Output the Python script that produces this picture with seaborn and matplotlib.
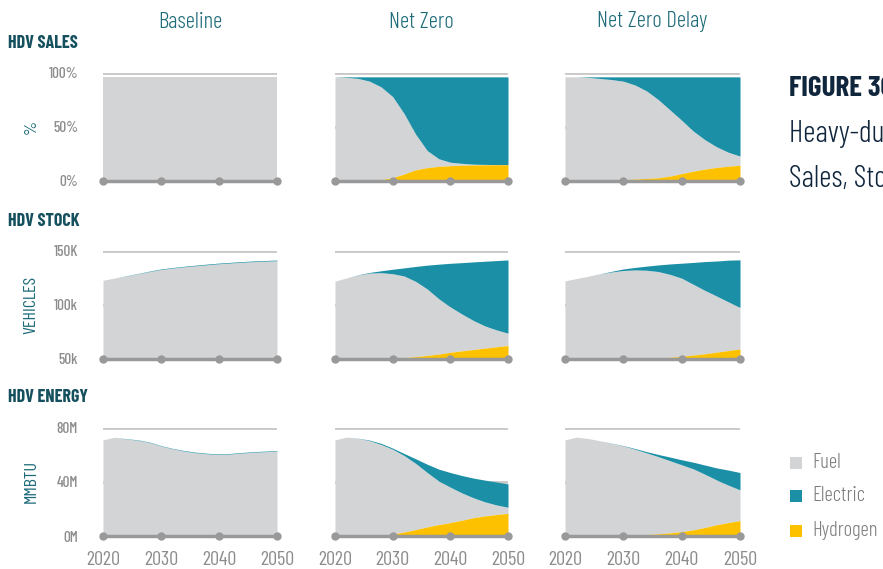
import numpy as np
import matplotlib
matplotlib.use('Agg')
import matplotlib.pyplot as plt
import seaborn as sns
from matplotlib.patches import Rectangle

sns.set_theme(style='white')
plt.rcParams['font.family'] = ['Barlow Condensed', 'DejaVu Sans']

years = [2020, 2022, 2024, 2026, 2028, 2030, 2032, 2034, 2036, 2038, 2040, 2042, 2044, 2046, 2048, 2050]
scenarios = ['Baseline', 'Net Zero', 'Net Zero Delay']
rows = ['HDV SALES', 'HDV STOCK', 'HDV ENERGY']
units = ['%', 'VEHICLES', 'MMBTU']
fuels = ['Fuel', 'Electric', 'Hydrogen']

# ---- HDV sales share (%) ----
sales_fuel = {
    'Baseline': [96] * 16,
    'Net Zero': [96, 95.5, 94.5, 91.6, 85.5, 74.7, 55.5, 32.7, 15.7, 7, 3.2, 1.8, 0.7, 0.4, 0.1, 0],
    'Net Zero Delay': [96, 96, 95.5, 94.3, 93, 90.8, 86.7, 80.6, 72, 61, 49.2, 37, 27, 19, 12.9, 8.5],
}
sales_elec = {
    'Baseline': [0] * 16,
    'Net Zero': [0, 0.5, 1.4, 4, 9.3, 18.2, 34, 53, 68, 75.5, 78.7, 79.7, 80.5, 80.7, 80.9, 81],
    'Net Zero Delay': [0, 0, 0.5, 1.5, 2.5, 4, 7.5, 13, 21, 30.5, 40, 50, 58, 64.5, 69.5, 73],
}
sales_h2 = {
    'Baseline': [0] * 16,
    'Net Zero': [0, 0, 0.1, 0.4, 1.2, 3.1, 6.5, 10.3, 12.3, 13.5, 14.1, 14.5, 14.8, 14.9, 15, 15],
    'Net Zero Delay': [0, 0, 0, 0.2, 0.5, 1.2, 1.8, 2.4, 3, 4.5, 6.8, 9, 11, 12.5, 13.6, 14.5],
}

# ---- HDV stock (thousand vehicles) ----
stock_fuel = {
    'Baseline': [122.6, 124.6, 126.5, 128.5, 130.6, 132.5, 133.8, 135, 135.9, 136.9, 137.8, 138.5, 139.2, 139.8, 140.2, 140.6],
    'Net Zero': [121.8, 124.7, 127.4, 129.2, 129.4, 128, 125.2, 119.3, 111.2, 101, 91.8, 84, 76.8, 70.5, 65.6, 61.4],
    'Net Zero Delay': [122, 124.2, 126.3, 128.4, 130.2, 131.5, 131.9, 131.4, 129.7, 126.4, 122, 115.2, 108.4, 101.7, 94.9, 88.3],
}
stock_elec = {
    'Baseline': [0, 0, 0.2, 0.3, 0.4, 0.5, 0.5, 0.5, 0.6, 0.6, 0.6, 0.6, 0.6, 0.6, 0.6, 0.6],
    'Net Zero': [0, 0, 0.2, 0.6, 1.7, 4.1, 7.5, 13.8, 22, 31.9, 40.2, 47.3, 54, 59.6, 63.9, 67.5],
    'Net Zero Delay': [0, 0, 0, 0.1, 0.6, 1.4, 2.3, 3.8, 6.1, 9.6, 13.8, 20.2, 26.6, 32.3, 38.4, 43.9],
}
stock_h2 = {
    'Baseline': [0] * 16,
    'Net Zero': [0, 0, 0, 0, 0.2, 0.6, 1.3, 2.2, 3.3, 4.5, 6.2, 7.5, 8.7, 10, 11.2, 12.4],
    'Net Zero Delay': [0, 0, 0, 0, 0, 0.1, 0.2, 0.4, 0.9, 1.6, 2.5, 3.6, 4.8, 6.3, 7.8, 9.2],
}

# ---- HDV energy (million MMBTU) ----
energy_fuel = {
    'Baseline': [70.9, 72.8, 71.6, 70.6, 69.0, 66.4, 64.3, 62.6, 61.4, 60.6, 60.1, 60.5, 61.2, 61.8, 62.2, 62.6],
    'Net Zero': [70.9, 72.9, 72, 70.1, 66.9, 62.5, 56.4, 48.8, 40.1, 32.1, 26.1, 20.2, 14.7, 10.4, 7.1, 4.5],
    'Net Zero Delay': [70.9, 72.9, 71.9, 70.2, 68.2, 66, 63.2, 60.2, 56.9, 53.2, 49.3, 45, 39.2, 33, 27.6, 22.7],
}
energy_elec = {
    'Baseline': [0, 0, 0.2, 0.3, 0.3, 0.3, 0.3, 0.4, 0.4, 0.4, 0.4, 0.4, 0.4, 0.4, 0.4, 0.4],
    'Net Zero': [0, 0, 0.1, 0.4, 0.8, 0.8, 1.5, 3.4, 6.1, 8.8, 10.8, 12.8, 14.5, 16, 16.9, 17.2],
    'Net Zero Delay': [0, 0, 0, 0, 0.1, 0.2, 0.5, 0.9, 1.6, 2.7, 3.7, 4.9, 6.8, 8.9, 11.1, 12.8],
}
energy_h2 = {
    'Baseline': [0] * 16,
    'Net Zero': [0, 0, 0, 0.2, 0.6, 1.5, 2.9, 4.7, 6.7, 8.4, 9.9, 11.6, 13.5, 14.8, 15.8, 16.7],
    'Net Zero Delay': [0, 0, 0, 0, 0.2, 0.5, 0.8, 1.1, 1.6, 2.3, 3.2, 4.5, 6.3, 8.3, 9.9, 11.3],
}

row_data = [(sales_fuel, sales_elec, sales_h2),
            (stock_fuel, stock_elec, stock_h2),
            (energy_fuel, energy_elec, energy_h2)]
y_ticks = [[0, 50, 100], [50, 100, 150], [0, 40, 80]]
y_ticklabels = [['0%', '50%', '100%'], ['50k', '100k', '150K'], ['0M', '40M', '80M']]
x_ticks = [2020, 2030, 2040, 2050]

colors = dict(zip(fuels, ['#d3d4d6', '#1a8fa6', '#fdc100']))
teal = '#1d6b79'
dark_teal = '#15505e'
navy = '#10263d'
grey_txt = '#8c8c8c'
axis_grey = '#999999'

W, H = 883, 569
fig = plt.figure(figsize=(W / 100, H / 100), dpi=100)

col_left = [103, 335, 565]
col_w = [174, 173, 175]
row_bottom = [181, 359, 536]
row_h = 108.5

for r in range(3):
    fuel_d, elec_d, h2_d = row_data[r]
    ymin, ymax = y_ticks[r][0], y_ticks[r][-1]
    for c, sc in enumerate(scenarios):
        ax = fig.add_axes([col_left[c] / W, 1 - row_bottom[r] / H, col_w[c] / W, row_h / H])
        x = np.array(years)
        h2 = np.array(h2_d[sc])
        fu = np.array(fuel_d[sc])
        el = np.array(elec_d[sc])
        # hydrogen sits on the axis floor, fuel + electric stack above
        ax.fill_between(x, ymin, ymin + h2, color=colors['Hydrogen'], lw=0, zorder=3)
        ax.fill_between(x, ymin + h2, h2 + fu, color=colors['Fuel'], lw=0, zorder=2)
        ax.fill_between(x, h2 + fu, h2 + fu + el, color=colors['Electric'], lw=0, zorder=2)

        ax.set_xlim(2020, 2050)
        ax.set_ylim(ymin, ymax)
        ax.set_yticks(y_ticks[r])
        ax.set_xticks(x_ticks)
        ax.grid(axis='y', color='#c8c8c8', lw=2, zorder=0)
        ax.grid(axis='x', visible=False)
        sns.despine(ax=ax, left=True, bottom=True)
        ax.set_facecolor('none')
        ax.plot(x_ticks, [ymin] * 4, color=axis_grey, lw=2.5, marker='o', ms=5,
                clip_on=False, zorder=5)
        ax.tick_params(length=0, colors=grey_txt, labelsize=11)
        ax.tick_params(axis='y', pad=18)
        if c == 0:
            ax.set_yticklabels(y_ticklabels[r], fontweight=500)
        else:
            ax.set_yticklabels([])
        if r == 2:
            ax.set_xticklabels([str(t) for t in x_ticks])
            ax.tick_params(axis='x', pad=11, labelsize=14.5)
        else:
            ax.set_xticklabels([])

# column titles
for c, sc in enumerate(scenarios):
    fig.text((col_left[c] + col_w[c] / 2) / W, 1 - 22 / H, sc, color=teal, fontsize=16.5,
             fontweight=300, ha='center', va='center')

# row headers and unit labels
for name, yp in zip(rows, [44, 221, 398]):
    fig.text(8 / W, 1 - yp / H, name, color=dark_teal, fontsize=13,
             fontweight='bold', va='center', ha='left')
for u, yp in zip(units, [127, 305, 481]):
    fig.text(31 / W, 1 - yp / H, u, color=teal, fontsize=13, rotation=90,
             va='center', ha='center')

# figure caption (cut off at the right edge, as in the source page)
fig.text(789 / W, 1 - 89 / H, 'FIGURE 30', color=navy, fontsize=21,
         fontweight='bold', va='center', ha='left')
fig.text(789 / W, 1 - 134 / H, 'Heavy-duty Vehicle', color=navy,
         fontsize=22, fontweight=300, va='center', ha='left')
fig.text(789 / W, 1 - 179 / H, 'Sales, Stock and Energy', color=navy,
         fontsize=22, fontweight=300, va='center', ha='left')

# legend: small squares + labels
for f, yp in zip(fuels, [462.5, 495.5, 530.5]):
    fig.add_artist(Rectangle((790 / W, 1 - (yp + 6) / H), 12 / W, 12 / H,
                             transform=fig.transFigure, facecolor=colors[f], edgecolor='none'))
    fig.text(812 / W, 1 - yp / H, f, color='#7d7d7d', fontsize=15, fontweight=300,
             va='center', ha='left')

fig.savefig('out.png', dpi=100)
